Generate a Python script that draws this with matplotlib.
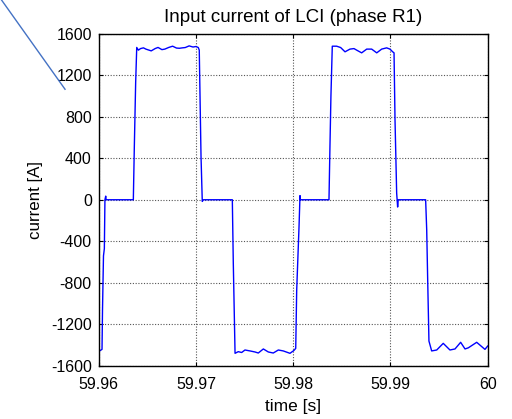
import numpy as np
import matplotlib
matplotlib.use("Agg")
from matplotlib import pyplot as plt
from matplotlib.lines import Line2D

plt.rcParams["font.family"] = ["Liberation Sans", "DejaVu Sans"]
plt.rcParams["axes.unicode_minus"] = False

# time offset from 59.96 s, in ms
t_ms = [
    0.0, 0.34, 0.39, 0.49, 0.58, 0.64, 0.72, 0.76,
    3.56, 3.66, 3.80, 3.91, 4.08, 4.3, 4.6, 4.85, 5.4, 5.8, 6.1, 6.5, 6.8,
    7.2, 7.6, 8.0, 8.3, 8.6, 8.9, 9.3, 9.7, 10.0, 10.24, 10.34, 10.52, 10.65, 10.76,
    13.74, 13.84, 13.94, 14.02, 14.35, 14.70, 15.04, 15.56, 16.07, 16.41, 16.93,
    17.44, 17.95, 18.47, 18.98, 19.67, 20.08, 20.26, 20.36, 20.60, 20.70, 20.74,
    23.68, 23.78, 23.88, 24.02, 24.47, 24.88, 25.33, 25.84, 26.25, 26.53, 27.04,
    27.56, 28.07, 28.59, 29.10, 29.61, 29.95, 30.23, 30.37, 30.47, 30.64, 30.74, 30.80,
    33.62, 33.73, 33.83, 33.96, 34.24, 34.76, 35.43, 36.12, 36.64, 37.22, 37.67,
    38.01, 38.87, 39.72, 40.0,
]
current = [
    -1460, -1440, -1060, -540, -470, 0, 35, 0,
    0, 500, 1130, 1466, 1440, 1455, 1462, 1450, 1433, 1455, 1466, 1445, 1450,
    1466, 1478, 1460, 1458, 1462, 1465, 1481, 1470, 1475, 1465, 1440, 420, -16, 0,
    0, -610, -1090, -1478, -1462, -1470, -1446, -1455, -1465, -1475, -1436,
    -1465, -1475, -1446, -1455, -1478, -1450, -1430, -870, -257, 40, 0,
    0, 514, 996, 1478, 1478, 1465, 1424, 1450, 1455, 1440, 1414,
    1450, 1450, 1414, 1450, 1462, 1450, 1424, 1414, 771, 64, -70, 0,
    0, -290, -770, -1360, -1455, -1446, -1382, -1446, -1436, -1372, -1436,
    -1425, -1372, -1440, -1408,
]

x_ticks = [59.96, 59.97, 59.98, 59.99, 60.0]
x_labels = ["59.96", "59.97", "59.98", "59.99", "60"]
y_ticks = list(range(-1600, 1601, 400))

t = 59.96 + np.array(t_ms) / 1000.0

fig = plt.figure(figsize=(5.12, 4.19), dpi=100)
ax = fig.add_axes([0.1928, 0.1265, 0.7597, 0.7935])

ax.plot(t, current, color="#0000ff", linewidth=1.0)

ax.set_xlim(59.96, 60.0)
ax.set_ylim(-1600, 1600)
ax.set_xticks(x_ticks)
ax.set_xticklabels(x_labels)
ax.set_yticks(y_ticks)
ax.tick_params(direction="in", top=True, right=True, length=3, labelsize=11.5)
ax.tick_params(axis="x", pad=8)
ax.tick_params(axis="y", pad=5)
ax.grid(True, color="#555555", linestyle=(0, (1, 1.5)), linewidth=0.8)
for s in ax.spines.values():
    s.set_linewidth(1.0)

ax.set_title("Input current of LCI (phase R1)", fontsize=13.5, pad=8)
ax.set_xlabel("time [s]", fontsize=12.5, labelpad=5)
ax.set_ylabel("current [A]", fontsize=12.2, labelpad=6)

# stray diagonal line in the top-left corner
fig.add_artist(Line2D([0.003, 0.127], [1.0, 0.787], transform=fig.transFigure,
                      color="#4472c4", linewidth=1.0))

fig.savefig("out.png", dpi=100)
